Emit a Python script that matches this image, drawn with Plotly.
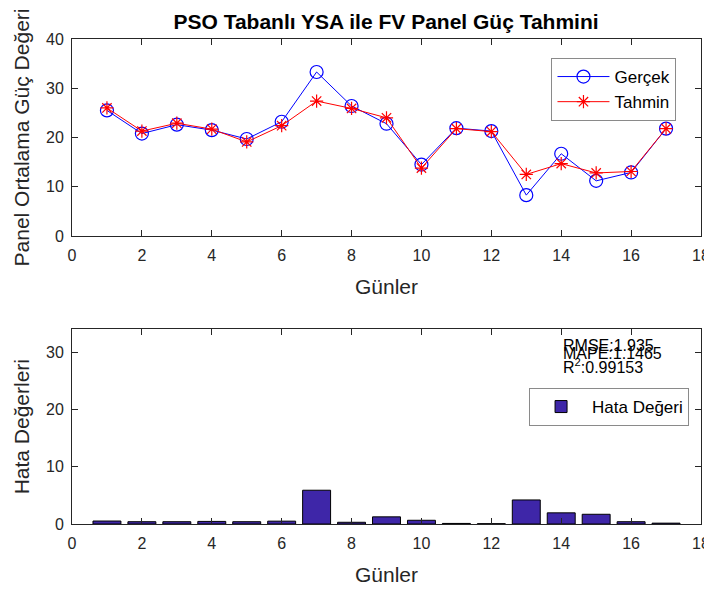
import plotly.graph_objects as go

# --- data ---
gunler = list(range(1, 18))
gercek = [25.5, 20.8, 22.6, 21.5, 19.7, 23.2, 33.3, 26.4, 22.8, 14.5, 21.9, 21.3, 8.3, 16.7, 11.2, 12.9, 21.8]
tahmin = [26.0, 21.3, 22.9, 21.7, 19.1, 22.4, 27.4, 25.9, 24.0, 13.8, 21.8, 21.2, 12.5, 14.7, 12.8, 13.1, 21.8]
hata = [0.52, 0.4, 0.4, 0.45, 0.4, 0.5, 5.9, 0.3, 1.25, 0.65, 0.1, 0.05, 4.2, 1.95, 1.7, 0.4, 0.15]
metrikler = ["RMSE:1.935", "MAPE:1.1465", "R<sup>2</sup>:0.99153"]
metrik_y = [31.2, 29.7, 27.6]

FONT = "Liberation Sans, Arial, sans-serif"
AXC = "#262626"

fig = go.Figure()

fig.add_trace(go.Scatter(x=gunler, y=gercek, name="Gerçek", mode="lines+markers",
                         line=dict(color="#0000ff", width=1),
                         marker=dict(symbol="circle-open", size=13, color="#0000ff", line=dict(width=1.2)),
                         xaxis="x", yaxis="y", legend="legend"))
fig.add_trace(go.Scatter(x=gunler, y=tahmin, name="Tahmin", mode="lines+markers",
                         line=dict(color="#ff0000", width=1),
                         marker=dict(symbol="asterisk-open", size=11, color="#ff0000", line=dict(width=1.2, color="#ff0000")),
                         xaxis="x", yaxis="y", legend="legend"))
fig.add_trace(go.Bar(x=gunler, y=hata, name="Hata Değeri", width=0.8,
                     marker=dict(color="rgb(62,38,168)", line=dict(color="black", width=1)),
                     xaxis="x2", yaxis="y2", legend="legend2"))

for i, t in enumerate(metrikler):
    fig.add_annotation(x=14, y=metrik_y[i], xref="x2", yref="y2", text=t, showarrow=False,
                       xanchor="left", yanchor="middle", font=dict(size=16, color="black", family=FONT))

axis_common = dict(showline=True, mirror="ticks", linecolor=AXC, linewidth=1, ticks="inside",
                   ticklen=6, tickcolor=AXC, showgrid=False, zeroline=False, automargin=False,
                   tickfont=dict(size=16, color=AXC, family=FONT))

# the page body adds an 8px margin, so the figure is drawn 8px smaller and shifted
fig.update_layout(
    width=704, height=582,
    margin=dict(l=64, r=11, t=31, b=66),
    paper_bgcolor="white", plot_bgcolor="white",
    font=dict(family=FONT, color=AXC),
    title=dict(text="<b>PSO Tabanlı YSA ile FV Panel Güç Tahmini</b>", x=0.537, xanchor="center",
               y=0.9768, yanchor="middle", font=dict(size=21, color="black", family=FONT)),
    xaxis=dict(domain=[0, 1], range=[0, 18], dtick=2, anchor="y", ticklabelstandoff=5,
               title=dict(text="Günler", font=dict(size=21, color=AXC), standoff=16), **axis_common),
    yaxis=dict(domain=[0.5938, 1], range=[0, 40], dtick=10, anchor="x", ticklabelstandoff=4,
               title=dict(text="Panel Ortalama Güç Değeri", font=dict(size=21, color=AXC), standoff=10),
               **axis_common),
    xaxis2=dict(domain=[0, 1], range=[0, 18], dtick=2, anchor="y2", ticklabelstandoff=5,
                title=dict(text="Günler", font=dict(size=21, color=AXC), standoff=16), **axis_common),
    yaxis2=dict(domain=[0, 0.4014], range=[0, 34], tickvals=[0, 10, 20, 30], anchor="x2", ticklabelstandoff=4,
                title=dict(text="Hata Değerleri", font=dict(size=21, color=AXC), standoff=10),
                **axis_common),
    legend=dict(x=0.961, y=0.9608, xanchor="right", yanchor="top", bgcolor="white", itemwidth=52,
                bordercolor="#8a8a8a", borderwidth=1, font=dict(size=17, color="black", family=FONT)),
    legend2=dict(x=0.981, y=0.2804, xanchor="right", yanchor="top", bgcolor="white", itemwidth=52,
                 bordercolor="#8a8a8a", borderwidth=1, font=dict(size=17, color="black", family=FONT)),
    showlegend=True,
)

fig.write_html("out.html")
